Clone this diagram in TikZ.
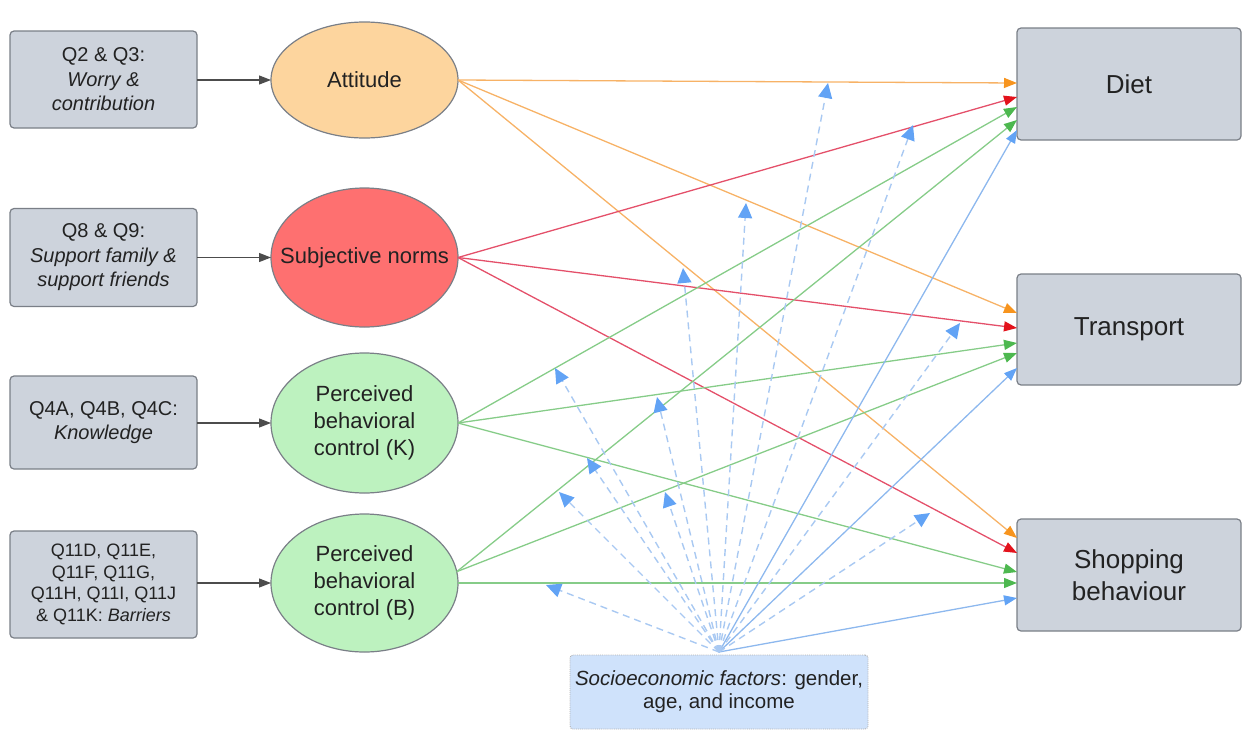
\documentclass[tikz,border=0pt]{standalone}
\usepackage{fontspec}
\setmainfont{Liberation Sans}
\usetikzlibrary{arrows.meta,shapes.geometric,calc}
\definecolor{boxfill}{HTML}{CDD3DC}
\definecolor{boxdraw}{HTML}{7A7F87}
\definecolor{attfill}{HTML}{FDD59E}
\definecolor{snfill}{HTML}{FE7070}
\definecolor{pbcfill}{HTML}{BDF2BF}
\definecolor{orl}{HTML}{F7B266}
\definecolor{orh}{HTML}{F7941E}
\definecolor{rdl}{HTML}{E4506A}
\definecolor{rdh}{HTML}{E3121B}
\definecolor{gnl}{HTML}{86CC88}
\definecolor{gnh}{HTML}{4DB84F}
\definecolor{bll}{HTML}{8DB8EE}
\definecolor{blh}{HTML}{62A3F5}
\definecolor{dashl}{HTML}{A9C9F2}
\definecolor{socfill}{HTML}{CFE2FB}
\definecolor{txt}{HTML}{222222}
\tikzset{
  qbox/.style={draw=boxdraw, fill=boxfill, rounded corners=4pt, line width=1.2pt,
    minimum width=187pt, align=center, inner sep=0pt, outer sep=0pt,
    text=txt, font=\fontsize{20}{24.5}\selectfont},
  construct/.style={ellipse, draw=boxdraw, line width=1.2pt, minimum width=187pt,
    minimum height=140pt, inner sep=0pt, outer sep=0pt, align=center, text=txt,
    font=\fontsize{22}{27}\selectfont},
  outbox/.style={qbox, minimum width=224pt, minimum height=112pt,
    font=\fontsize{26}{32}\selectfont},
  socbox/.style={draw=gray!60, densely dotted, line width=0.9pt, fill=socfill,
    rounded corners=3pt, minimum width=298pt, minimum height=74pt, align=center,
    inner sep=0pt, outer sep=0pt, text=txt, font=\fontsize{20.5}{23}\selectfont},
  feed/.style={draw=black!70, line width=1.2pt, -{Triangle[length=12pt,width=9pt]}},
  oarr/.style={draw=orl, line width=1.3pt, -{Triangle[length=13pt,width=10pt,color=orh]}},
  rarr/.style={draw=rdl, line width=1.3pt, -{Triangle[length=13pt,width=10pt,color=rdh]}},
  garr/.style={draw=gnl, line width=1.3pt, -{Triangle[length=13pt,width=10pt,color=gnh]}},
  barr/.style={draw=bll, line width=1.3pt, -{Triangle[length=13pt,width=10pt,color=blh]}},
  darr/.style={draw=dashl, line width=1.4pt, dash pattern=on 7pt off 5pt,
    -{Triangle[length=15pt,width=14pt,color=blh]}},
}
\begin{document}
\begin{tikzpicture}[x=1pt,y=-1pt]
\useasboundingbox (0,0) rectangle (1242,731);
% input boxes
\node[qbox, minimum height=97pt] (q1) at (103.5,79.5) {Q2 \& Q3:\\ \textit{Worry \&}\\ \textit{contribution}};
\node[qbox, minimum height=98pt] (q2) at (103.5,257.5) {Q8 \& Q9:\\ \textit{Support family \&}\\ \textit{support friends}};
\node[qbox, minimum height=93pt] (q3) at (103.5,422.5) {Q4A, Q4B, Q4C:\\ \textit{Knowledge}};
\node[qbox, minimum height=107pt, font=\fontsize{18}{21.7}\selectfont] (q4) at (103.5,584.5) {Q11D, Q11E,\\ Q11F, Q11G,\\ Q11H, Q11I, Q11J\\ \& Q11K: \textit{Barriers}};
% constructs
\node[construct, fill=attfill, minimum height=116pt] (att) at (364.5,80) {Attitude};
\node[construct, fill=snfill, minimum height=139pt] (sn) at (364.5,257.5) {\makebox[100pt]{Subjective norms}};
\node[construct, fill=pbcfill] (pk) at (364.5,423) {Perceived\\ behavioral\\ control (K)};
\node[construct, fill=pbcfill, minimum height=138pt] (pb) at (364.5,583) {Perceived\\ behavioral\\ control (B)};
% outcomes
\node[outbox] (diet) at (1129,84) {Diet};
\node[outbox, minimum height=111pt] (tr) at (1129,329.5) {Transport};
\node[outbox] (shop) at (1129,575) {Shopping\\ behaviour};
% socioeconomic
\node[socbox] (soc) at (719,692) {\textit{Socioeconomic factors}: gender,\\ age, and income};
\coordinate (src) at (719,652);
% feeds
\draw[feed] (q1.east |- att.west) -- (att.west);
\draw[feed] (q2.east |- sn.west) -- (sn.west);
\draw[feed] (q3.east |- pk.west) -- (pk.west);
\draw[feed] (q4.east |- pb.west) -- (pb.west);
% terminals
\coordinate (d1) at ([yshift=1pt]diet.west);
\coordinate (d2) at ([yshift=-13pt]diet.west);
\coordinate (d3) at ([yshift=-23pt]diet.west);
\coordinate (d4) at ([yshift=-36pt]diet.west);
\coordinate (d5) at ([yshift=-46pt]diet.west);
\coordinate (t1) at ([yshift=16.5pt]tr.west);
\coordinate (t2) at ([yshift=1.5pt]tr.west);
\coordinate (t3) at ([yshift=-13.5pt]tr.west);
\coordinate (t4) at ([yshift=-23.5pt]tr.west);
\coordinate (t5) at ([yshift=-38.5pt]tr.west);
\coordinate (s1) at ([yshift=37pt]shop.west);
\coordinate (s2) at ([yshift=22pt]shop.west);
\coordinate (s3) at ([yshift=3pt]shop.west);
\coordinate (s4) at ([yshift=-8pt]shop.west);
\coordinate (s5) at ([yshift=-23pt]shop.west);
% dashed targets
\coordinate (m1) at (828,83);
\coordinate (m2) at (913,125);
\coordinate (m3) at (746,203);
\coordinate (m4) at (683,268);
\coordinate (m5) at (960,323);
\coordinate (m6) at (555,368);
\coordinate (m7) at (657,397);
\coordinate (m8) at (587,458);
\coordinate (m9) at (559,492);
\coordinate (m10) at (665,492);
\coordinate (m11) at (930,513);
\coordinate (m12) at (546,585);
% attitude
\draw[oarr] (att.east) -- (d1);
\draw[oarr] (att.east) -- (t1);
\draw[oarr] (att.east) -- (s1);
% subjective norms
\draw[rarr] (sn.east) -- (d2);
\draw[rarr] (sn.east) -- (t2);
\draw[rarr] (sn.east) -- (s2);
% PBC K
\draw[garr] (pk.east) -- (d3);
\draw[garr] (pk.east) -- (t3);
\draw[garr] (pk.east) -- (s3);
% PBC B
\draw[garr] (pb.7) -- (d4);
\draw[garr] (pb.7) -- (t4);
\draw[garr] (pb.east) -- (s4);
% socioeconomic direct
\draw[barr] (src) -- (d5);
\draw[barr] (src) -- (t5);
\draw[barr] (src) -- (s5);
% moderation
\foreach \m in {m1,m2,m3,m4,m5,m6,m7,m8,m9,m10,m11,m12}
  \draw[darr] (src) -- (\m);
\end{tikzpicture}
\end{document}
